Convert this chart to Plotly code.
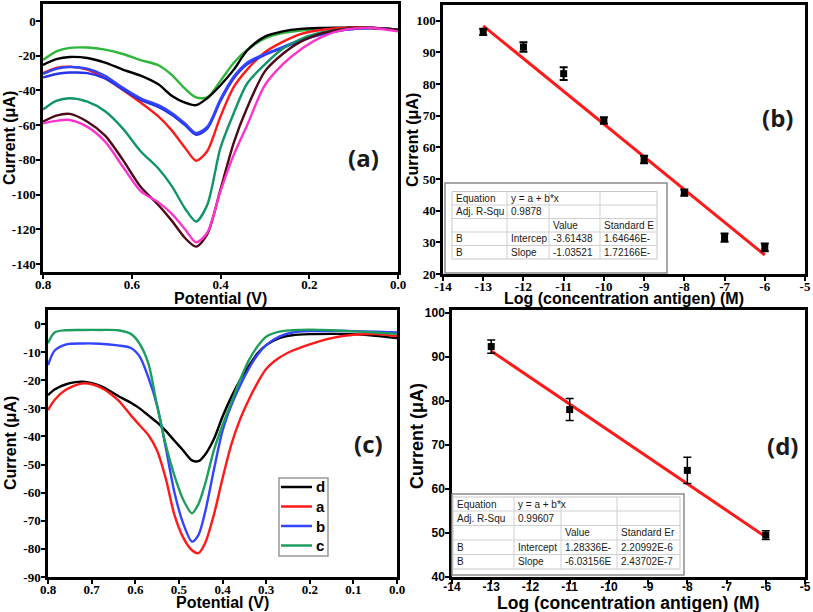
import plotly.graph_objects as go

W, H = 813, 612

# ---------------- Panel (a) data ----------------
pot_a = [0.80, 0.77, 0.74, 0.70, 0.66, 0.62, 0.58, 0.54, 0.51, 0.48, 0.455, 0.43, 0.40, 0.37, 0.34, 0.30, 0.26, 0.22, 0.17, 0.12, 0.06, 0.0]
a_green = [-22.5, -17.5, -15.5, -15.3, -16.5, -19, -22.5, -25.5, -31, -39, -44, -44, -34.5, -24, -16.7, -10, -7, -5.5, -4.5, -4, -4, -5]
a_black = [-25.3, -22, -20.7, -21.3, -24, -28, -31.5, -36.5, -43, -47, -48.5, -44.5, -37, -28, -17, -9, -6, -4.5, -4, -3.8, -3.8, -5]
a_blue1 = [-30.5, -27.5, -26.5, -27.5, -31.5, -38.5, -44.5, -48.5, -53, -59, -64.5, -61, -45, -32, -24, -19, -15, -11, -7.5, -5, -4, -5]
a_blue2 = [-32.5, -30.5, -29.7, -30, -33, -39.5, -45.5, -49.5, -54, -60, -65.5, -62, -46, -33, -25, -19.5, -15.5, -11.5, -7.5, -5, -4, -5]
a_red = [-30, -27, -26.3, -28, -33, -39.7, -47, -55, -63, -73, -80.5, -75, -55, -38, -28, -18, -12, -7.5, -5, -4, -3.8, -5]
a_teal = [-51, -46, -44.5, -46.5, -52, -62, -75, -85, -95, -108, -115.5, -106, -73, -53, -36, -25, -16, -10.5, -6.5, -4.5, -4, -5]
a_maroon = [-58, -54.5, -53.5, -58, -66, -80, -95.5, -106, -115, -125, -130, -123, -97, -70, -50, -29, -19, -12, -7, -4.5, -4, -5]
a_magenta = [-59, -57.5, -57, -61, -69.5, -84, -98, -104.5, -111, -120, -127.5, -122, -98, -77, -60, -37, -25, -16.5, -9, -5, -4, -6]
a_xticks = [0.8, 0.6, 0.4, 0.2, 0.0]
a_xtext = ["0.8", "0.6", "0.4", "0.2", "0.0"]
a_yticks = [0, -20, -40, -60, -80, -100, -120, -140]
a_ytext = ["0", "-20", "-40", "-60", "-80", "-100", "-120", "-140"]

# ---------------- Panel (b) data ----------------
logc_b = [-13, -12, -11, -10, -9, -8, -7, -6]
cur_b = [96.5, 91.7, 83.3, 68.5, 56.2, 45.7, 31.5, 28.4]
err_b = [1.0, 1.5, 2.0, 1.0, 1.2, 1.0, 1.3, 1.2]
fit_b_x = [-13, -6]
fit_b_y = [98.4, 26.0]
table_b = [
    ["Equation", "y = a + b*x", "", ""],
    ["Adj. R-Squ", "0.9878", "", ""],
    ["", "", "Value", "Standard E"],
    ["B", "Intercep", "-3.61438", "1.64646E-"],
    ["B", "Slope", "-1.03521", "1.72166E-"],
]
logc_ticks = [-14, -13, -12, -11, -10, -9, -8, -7, -6, -5]
logc_text = ["-14", "-13", "-12", "-11", "-10", "-9", "-8", "-7", "-6", "-5"]
b_yticks = [20, 30, 40, 50, 60, 70, 80, 90, 100]
b_ytext = ["20", "30", "40", "50", "60", "70", "80", "90", "100"]

# ---------------- Panel (c) data ----------------
pot_c = [0.80, 0.785, 0.76, 0.72, 0.68, 0.64, 0.61, 0.59, 0.57, 0.55, 0.53, 0.51, 0.49, 0.47, 0.455, 0.44, 0.42, 0.40, 0.38, 0.36, 0.34, 0.32, 0.30, 0.27, 0.24, 0.20, 0.15, 0.10, 0.05, 0.0]
c_d = [-25.3, -23.3, -21.5, -20.5, -22, -25.5, -28, -30, -32.5, -35, -38, -41.5, -45, -48.5, -48.8, -46.5, -41, -33, -26, -20, -15, -10.5, -7.5, -5, -4, -3.6, -3.5, -3.6, -4.2, -5]
c_a = [-30.6, -27, -23.5, -21.1, -22.5, -27, -32.5, -36, -39.5, -45, -55, -68, -76, -80.5, -81.5, -78, -68, -55, -43, -34, -27, -21, -16, -12, -9.5, -7.2, -5, -3.8, -3.6, -4.3]
c_b = [-14.6, -9.5, -7.3, -6.9, -7, -7.6, -8.5, -11.5, -19, -29, -44, -60, -71, -77.4, -75, -67, -52, -38, -29, -22, -16, -11, -7.5, -4.5, -3, -2.5, -2.5, -2.5, -2.7, -3]
c_c = [-6.8, -3, -2.2, -2.1, -2.1, -2.2, -3.5, -7, -14, -29, -43, -54, -62.5, -67.3, -64, -57, -45, -36, -28, -20, -13, -8, -4.5, -2.7, -2.2, -2, -2.2, -2.6, -3, -3.5]
c_names = ["d", "a", "b", "c"]
c_colors = ["#000000", "#ff1a1a", "#3344ff", "#1e9e5e"]
c_xticks = [0.8, 0.7, 0.6, 0.5, 0.4, 0.3, 0.2, 0.1, 0.0]
c_xtext = ["0.8", "0.7", "0.6", "0.5", "0.4", "0.3", "0.2", "0.1", "0.0"]
c_yticks = [0, -10, -20, -30, -40, -50, -60, -70, -80, -90]
c_ytext = ["0", "-10", "-20", "-30", "-40", "-50", "-60", "-70", "-80", "-90"]

# ---------------- Panel (d) data ----------------
logc_d = [-13, -11, -8, -6]
cur_d = [92.3, 78.0, 64.2, 49.5]
err_d = [1.5, 2.5, 3.0, 1.0]
fit_d_x = [-13, -6]
fit_d_y = [91.3, 49.1]
table_d = [
    ["Equation", "y = a + b*x", "", ""],
    ["Adj. R-Squ", "0.99607", "", ""],
    ["", "", "Value", "Standard Er"],
    ["B", "Intercept", "1.28336E-", "2.20992E-6"],
    ["B", "Slope", "-6.03156E", "2.43702E-7"],
]
d_yticks = [40, 50, 60, 70, 80, 90, 100]
d_ytext = ["40", "50", "60", "70", "80", "90", "100"]


def px(x):
    return x / W


def py(y):
    return 1 - y / H


fig = go.Figure()

LW = 2.4
for ys, col in [(a_green, "#2fb53a"), (a_black, "#000000"), (a_red, "#ff1a1a"),
                (a_blue2, "#2633e6"), (a_blue1, "#3344ff"), (a_teal, "#12946a"),
                (a_maroon, "#4d0a18"), (a_magenta, "#ff33cc")]:
    fig.add_trace(go.Scatter(x=pot_a, y=ys, mode="lines", line=dict(color=col, width=LW, shape="spline", smoothing=0.8),
                             xaxis="x", yaxis="y", showlegend=False))

fig.add_trace(go.Scatter(x=fit_b_x, y=fit_b_y, mode="lines", line=dict(color="#ff1a1a", width=3),
                         xaxis="x2", yaxis="y2", showlegend=False))
fig.add_trace(go.Scatter(x=logc_b, y=cur_b, mode="markers", marker=dict(symbol="square", size=7, color="black"),
                         error_y=dict(type="data", array=err_b, color="black", thickness=2, width=4),
                         xaxis="x2", yaxis="y2", showlegend=False))

for ys, col, nm in zip([c_d, c_a, c_b, c_c], c_colors, c_names):
    fig.add_trace(go.Scatter(x=pot_c, y=ys, mode="lines", name=nm,
                             line=dict(color=col, width=LW, shape="spline", smoothing=0.8),
                             xaxis="x3", yaxis="y3", showlegend=False))

fig.add_trace(go.Scatter(x=fit_d_x, y=fit_d_y, mode="lines", line=dict(color="#ff1a1a", width=3),
                         xaxis="x4", yaxis="y4", showlegend=False))
fig.add_trace(go.Scatter(x=logc_d, y=cur_d, mode="markers", marker=dict(symbol="square", size=7, color="black"),
                         error_y=dict(type="data", array=err_d, color="black", thickness=1.5, width=4),
                         xaxis="x4", yaxis="y4", showlegend=False))

serif = dict(family="Liberation Serif, Times New Roman, serif", size=13, color="black", weight="bold")
sans_tick = dict(family="Liberation Sans, Arial, sans-serif", size=12, color="black", weight="bold")


def axis(domain, rng, anchor, font, tv, tt, standoff):
    return dict(domain=domain, range=rng, anchor=anchor, showline=True, linewidth=2.5,
                linecolor="black", mirror=True, ticks="outside", ticklen=4, tickwidth=1.5, tickcolor="black",
                showgrid=False, zeroline=False, tickfont=font, automargin=False,
                tickmode="array", tickvals=tv, ticktext=tt, ticklabelstandoff=standoff)


fig.update_layout(
    width=W, height=H, margin=dict(l=0, r=0, t=0, b=0, autoexpand=False),
    paper_bgcolor="white", plot_bgcolor="white", showlegend=False,
    xaxis=axis([px(43), px(398)], [0.8, 0.0], "y", serif, a_xticks, a_xtext, -5),
    yaxis=axis([py(272), py(4)], [-144.6, 9.8], "x", serif, a_yticks, a_ytext, -2),
    xaxis2=axis([px(443), px(805)], [-14, -5], "y2", serif, logc_ticks, logc_text, -5),
    yaxis2=axis([py(274), py(5)], [20, 105], "x2", serif, b_yticks, b_ytext, -2),
    xaxis3=axis([px(48), px(397)], [0.8, 0.0], "y3", serif, c_xticks, c_xtext, -5),
    yaxis3=axis([py(577), py(310)], [-90, 5], "x3", serif, c_yticks, c_ytext, -2),
    xaxis4=axis([px(452), px(805)], [-14, -5], "y4", sans_tick, logc_ticks, logc_text, -7),
    yaxis4=axis([py(577), py(310)], [40, 100.6], "x4", sans_tick, d_yticks, d_ytext, -2),
)

title_font = dict(family="Liberation Sans, Arial, sans-serif", size=16, color="black", weight="bold")
ann = []


def add_text(x, y, t, font, angle=0, xanchor="center"):
    ann.append(dict(x=px(x), y=py(y), xref="paper", yref="paper", text=t, showarrow=False,
                    font=font, textangle=angle, xanchor=xanchor, yanchor="middle"))


add_text(10, 138, "Current (μA)", title_font, -90)
add_text(220, 298, "Potential (V)", title_font)
add_text(413, 140, "Current (μA)", title_font, -90)
add_text(624, 298, "Log (concentration antigen) (M)", title_font)
add_text(10, 443, "Current (μA)", title_font, -90)
add_text(222, 602, "Potential (V)", title_font)
add_text(417, 436, "Current (μA)", dict(title_font, size=18), -90)
add_text(628, 603, "Log (concentration antigen) (M)", dict(title_font, size=17.5))

lab_font = dict(family="Open Sans", size=24, color="#1a1a1a", weight="bold")
add_text(363, 157, "(a)", lab_font)
add_text(777, 118, "(b)", lab_font)
add_text(368, 443, "(c)", lab_font)
add_text(782, 445, "(d)", lab_font)

shapes = []


def draw_table(box, cols, rows, data):
    x0, y0, x1, y1 = box
    shapes.append(dict(type="rect", xref="paper", yref="paper", x0=px(x0), y0=py(y1), x1=px(x1), y1=py(y0),
                       line=dict(color="#8a8a8a", width=1.5), fillcolor="white", layer="above"))
    shapes.append(dict(type="rect", xref="paper", yref="paper", x0=px(cols[0]), y0=py(rows[-1]), x1=px(cols[-1]), y1=py(rows[0]),
                       line=dict(color="#c8c8c8", width=1), layer="above"))
    for r in rows[1:-1]:
        shapes.append(dict(type="line", xref="paper", yref="paper", x0=px(cols[0]), x1=px(cols[-1]), y0=py(r), y1=py(r),
                           line=dict(color="#d0d0d0", width=1), layer="above"))
    for c in cols[1:-1]:
        shapes.append(dict(type="line", xref="paper", yref="paper", x0=px(c), x1=px(c), y0=py(rows[-1]), y1=py(rows[0]),
                           line=dict(color="#d0d0d0", width=1), layer="above"))
    tf = dict(family="Liberation Sans, Arial, sans-serif", size=10, color="#1a1a1a")
    for i, row in enumerate(data):
        yc = (rows[i] + rows[i + 1]) / 2
        for j, t in enumerate(row):
            if t:
                add_text(cols[j] + 2, yc, t, tf, xanchor="left")


draw_table((445, 183, 667, 273), [452, 507, 549, 600, 657], [191.5, 205, 218.5, 232, 245.5, 259], table_b)
draw_table((452, 494, 684, 575), [453, 514, 561, 617, 680], [497, 511, 525.5, 540, 554.5, 569], table_d)

# manual legend for panel (c)
shapes.append(dict(type="rect", xref="paper", yref="paper", x0=px(279), x1=px(328), y0=py(556), y1=py(478),
                   line=dict(color="#999999", width=1.5), fillcolor="white", layer="above"))
leg_font = dict(family="Liberation Sans, Arial, sans-serif", size=15, color="black", weight="bold")
for i, (nm, col) in enumerate(zip(c_names, c_colors)):
    yc = 487 + i * 19.5
    shapes.append(dict(type="line", xref="paper", yref="paper", x0=px(281), x1=px(312), y0=py(yc), y1=py(yc),
                       line=dict(color=col, width=2.5), layer="above"))
    add_text(314, yc, nm, leg_font, xanchor="left")

fig.update_layout(annotations=ann, shapes=shapes)
fig.write_html("out.html", config={"displayModeBar": False},
               post_script="document.body.style.margin='0';document.body.style.padding='0';")
